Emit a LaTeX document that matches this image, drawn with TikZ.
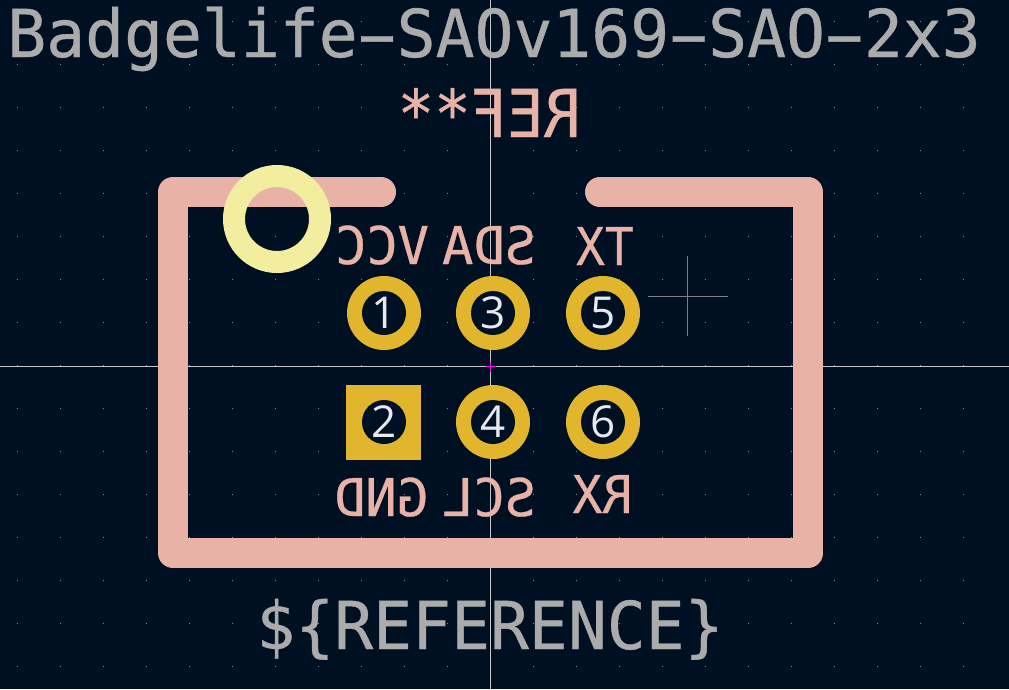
\documentclass[tikz,border=0pt]{standalone}
\usepackage{fontspec}
\setmainfont{Open Sans}
\newfontfamily\strokefont[FakeBold=0.6]{DejaVu Sans Mono}
\newcommand{\widedash}{\makebox[.602em]{\scalebox{1.9}[1]{-}}}
\definecolor{boardbg}{HTML}{001023}
\definecolor{griddot}{HTML}{84888F}
\definecolor{axisline}{HTML}{C8C8C8}
\definecolor{silkcol}{HTML}{E8B2A7}
\definecolor{fabcol}{HTML}{ABABAB}
\definecolor{courtcol}{HTML}{F3EDA0}
\definecolor{padcol}{HTML}{E1B52C}
\definecolor{padnum}{HTML}{E6EAF0}
\definecolor{origincol}{HTML}{F010E0}
\tikzset{
  silkline/.style={draw=silkcol,line width=30pt,line cap=round,line join=round},
  bigtext/.style={fabcol,inner sep=0,anchor=base,font=\strokefont\fontsize{66}{66}\selectfont,
    xscale=.98,transform shape},
  mirrored/.style={silkcol,inner sep=0,anchor=base,font=\strokefont\fontsize{#1}{#1}\selectfont,
    transform shape},
  padnumber/.style={padnum,inner sep=0,font=\fontsize{44}{44}\selectfont}
}
\begin{document}
\begin{tikzpicture}[x=1pt,y=-1pt]
	\fill[boardbg] (0,0) rectangle (1009,689);
	\useasboundingbox (0,0) rectangle (1009,689);

	\foreach \gx in {0,...,22} \foreach \gy in {0,...,15}
		\fill[griddot] (17+\gx*43,22+\gy*43) rectangle +(1,-1);

	\draw[axisline,line width=1pt] (490.5,0) -- (490.5,689);
	\draw[axisline,line width=1pt] (0,366.5) -- (1009,366.5);
	\draw[origincol,line width=1.7pt] (485.5,366.5) -- (495.5,366.5);
	\draw[origincol,line width=1.7pt] (490.5,361.5) -- (490.5,371.5);
	\draw[gray,line width=1pt] (648,296.5) -- (728,296.5);
	\draw[gray,line width=1pt] (687.5,256) -- (687.5,336);

	\draw[silkline] (381,192) -- (173,192) -- (173,553) -- (808,553) -- (808,192) -- (600,192);
	\draw[courtcol,line width=22pt] (277,219) circle (43);

	\node[bigtext] (title) at (494,57) {Badgelife\widedash SAOv169\widedash SAO\widedash 2x3};
	\node[bigtext] (value) at (490,649) {\$\{REFERENCE\}};
	\node[mirrored=66,xscale=-.92] (ref) at (489,137) {REF**};

	\node[mirrored=52,xscale=-1] (vcc) at (382,264) {VCC};
	\node[mirrored=52,xscale=-1] (sda) at (489,264) {SDA};
	\node[mirrored=52,xscale=-.92] (tx) at (605,265) {TX};
	\node[mirrored=52,xscale=-1] (gnd) at (381,516) {GND};
	\node[mirrored=52,xscale=-1] (scl) at (489,516) {SCL};
	\node[mirrored=52,xscale=-.95] (rx) at (602.5,513) {RX};

	% pads, hole on top of the copper
	\fill[padcol] (346,385) rectangle (421,460);
	\foreach \px/\py in {384/313,493/313,603/313,493/422,603/422}
		\fill[padcol] (\px,\py) circle (37);
	\foreach \px/\py/\pnum in {384/313/1,493/313/3,603/313/5,384/422/2,493/422/4,603/422/6} {
		\fill[boardbg] (\px,\py) circle (22);
		\node[padnumber] (pad\pnum) at (\px,\py) {\pnum};
	}
\end{tikzpicture}
\end{document}
